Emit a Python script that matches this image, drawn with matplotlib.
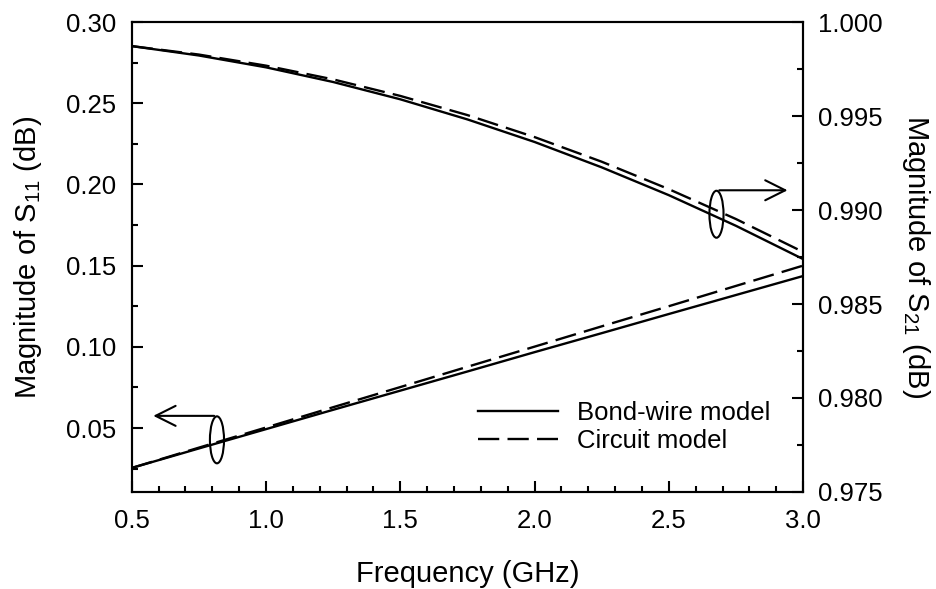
import matplotlib.pyplot as plt
from matplotlib.patches import Ellipse
from matplotlib.ticker import MultipleLocator

plt.rcParams['font.family'] = ['Liberation Sans', 'DejaVu Sans']
plt.rcParams['mathtext.fontset'] = 'custom'
plt.rcParams['mathtext.rm'] = 'Liberation Sans'
plt.rcParams['mathtext.it'] = 'Liberation Sans:italic'

freq = [0.5, 0.75, 1.0, 1.25, 1.5, 1.75, 2.0, 2.25, 2.5, 2.75, 3.0]

# S11 (left axis)
s11_wire = [0.0254, 0.0374, 0.0493, 0.0612, 0.0730, 0.0848, 0.0967,
            0.1084, 0.1202, 0.1319, 0.1436]
s11_circuit = [0.0254, 0.0379, 0.0503, 0.0628, 0.0752, 0.0877, 0.1001,
               0.1126, 0.1250, 0.1375, 0.1500]

# S21 (right axis)
s21_wire = [0.99872, 0.99822, 0.99759, 0.99681, 0.99589, 0.99482, 0.99362,
            0.99227, 0.99079, 0.98916, 0.98739]
s21_circuit = [0.99872, 0.99827, 0.99768, 0.99695, 0.99607, 0.99505, 0.99388,
               0.99257, 0.99111, 0.98952, 0.98777]

fig = plt.figure(figsize=(9.36, 5.89), dpi=100)
ax = fig.add_axes([0.1407, 0.1647, 0.7173, 0.7979])
ax2 = ax.twinx()

dash = (9, 3.5)
ax.plot(freq, s11_wire, color='black', lw=1.7, label='Bond-wire model')
ax.plot(freq, s11_circuit, color='black', lw=1.7, dashes=dash, label='Circuit model')
ax2.plot(freq, s21_wire, color='black', lw=1.7)
ax2.plot(freq, s21_circuit, color='black', lw=1.7, dashes=dash)

ax.set_xlim(0.5, 3.0)
ax.set_ylim(0.0106, 0.30)
ax2.set_ylim(0.975, 1.000)

ax.xaxis.set_major_locator(MultipleLocator(0.5))
ax.xaxis.set_minor_locator(MultipleLocator(0.1))
ax.yaxis.set_major_locator(MultipleLocator(0.05))
ax.yaxis.set_minor_locator(MultipleLocator(0.025))
ax2.yaxis.set_major_locator(MultipleLocator(0.005))
ax2.yaxis.set_minor_locator(MultipleLocator(0.0025))
ax.xaxis.set_major_formatter(plt.FormatStrFormatter('%.1f'))
ax.yaxis.set_major_formatter(plt.FormatStrFormatter('%.2f'))
ax2.yaxis.set_major_formatter(plt.FormatStrFormatter('%.3f'))

for a in (ax, ax2):
    a.tick_params(which='major', direction='in', length=8, width=1.5, labelsize=18.5, pad=11)
    a.tick_params(which='minor', direction='in', length=4.5, width=1.5)
    for s in a.spines.values():
        s.set_linewidth(1.5)
ax.tick_params(axis='y', which='both', right=False)
ax.tick_params(axis='x', pad=12)

ax.set_xlabel('Frequency (GHz)', fontsize=21, labelpad=20)
ax.set_ylabel(r'Magnitude of $\mathregular{S_{11}}$ (dB)', fontsize=21, labelpad=16)
ax2.set_ylabel(r'Magnitude of $\mathregular{S_{21}}$ (dB)', fontsize=21, rotation=270,
               va='bottom', labelpad=12)

# ellipse + arrow markers
ax.add_patch(Ellipse((0.871, 0.591), 0.021, 0.1, transform=ax.transAxes,
                     fill=False, lw=1.5, color='black'))
ax.annotate('', xy=(0.981, 0.642), xytext=(0.871, 0.642), xycoords='axes fraction',
            arrowprops=dict(arrowstyle='->', lw=1.5, color='black', mutation_scale=36))
ax.add_patch(Ellipse((0.127, 0.111), 0.021, 0.1, transform=ax.transAxes,
                     fill=False, lw=1.5, color='black'))
ax.annotate('', xy=(0.028, 0.162), xytext=(0.127, 0.162), xycoords='axes fraction',
            arrowprops=dict(arrowstyle='->', lw=1.5, color='black', mutation_scale=36))

ax.legend(loc='center left', bbox_to_anchor=(0.516, 0.138), frameon=False, fontsize=18.5,
          handlelength=3.1, handletextpad=0.75, labelspacing=0.15,
          borderpad=0, borderaxespad=0)

fig.savefig('out.png', dpi=100)
